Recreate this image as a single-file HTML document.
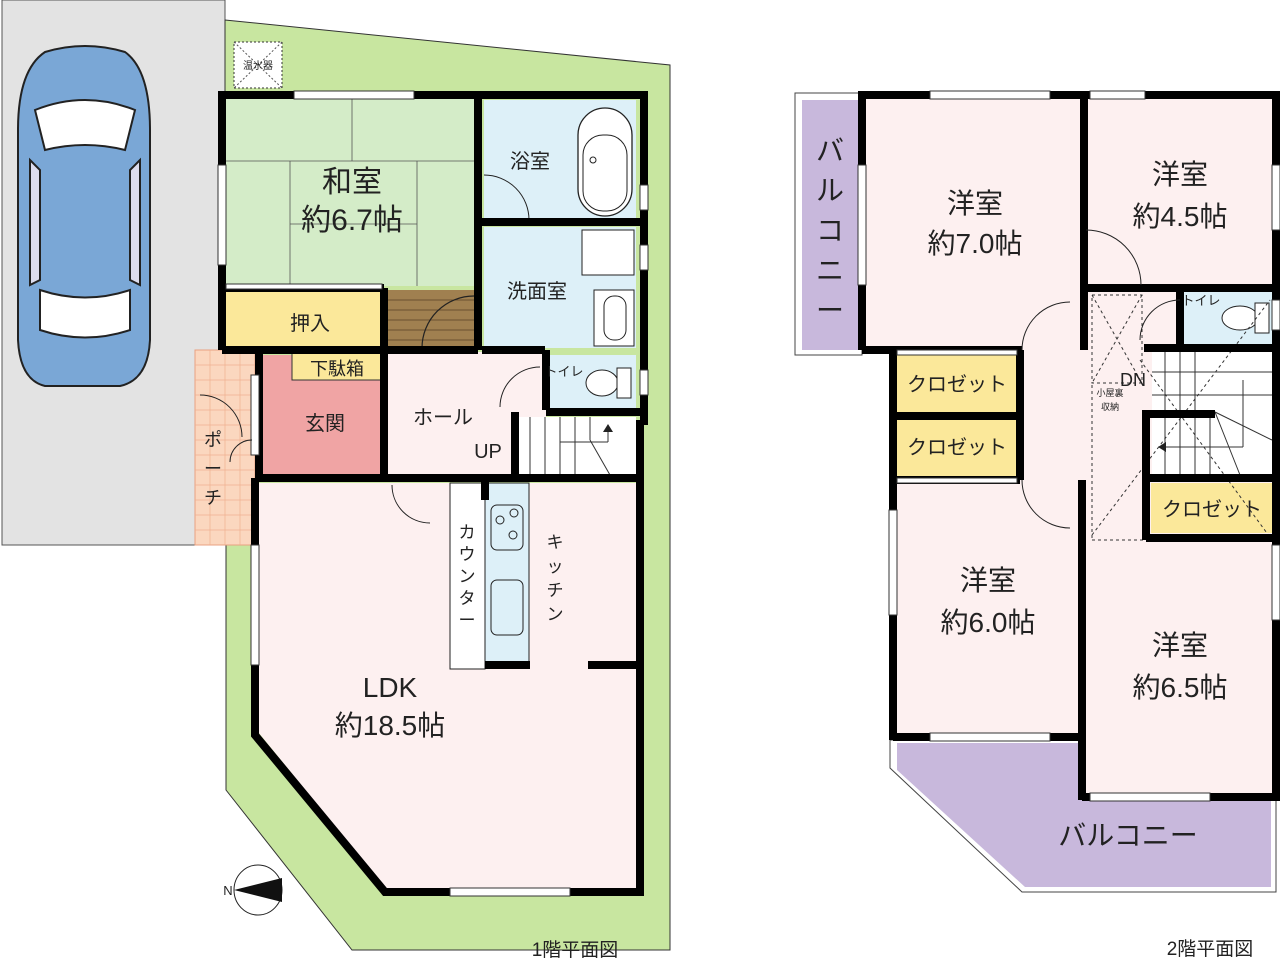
<!DOCTYPE html>
<html><head><meta charset="utf-8"><style>
html,body{margin:0;padding:0;background:#fff;}
svg{display:block;}
text{font-family:"Liberation Sans","Noto Sans CJK JP",sans-serif;fill:#222;}
</style></head><body>
<svg width="1280" height="964" viewBox="0 0 1280 964" xmlns="http://www.w3.org/2000/svg">
<!-- parking -->
<rect x="2" y="0" width="223" height="545" fill="#e3e3e3" stroke="#555" stroke-width="1"/>
<!-- green lot -->
<polygon points="225,20 670,65 670,950 352,950 226,790 226,545 255,545 255,350 225,350" fill="#c8e6a0" stroke="#333" stroke-width="1"/>
<!-- porch -->
<rect x="195" y="350" width="60" height="195" fill="#fbd7bf" stroke="#e8a080" stroke-width="1"/>
<g stroke="#f0b090" stroke-width="0.7">
<line x1="195" y1="365" x2="255" y2="365"/><line x1="195" y1="380" x2="255" y2="380"/><line x1="195" y1="395" x2="255" y2="395"/><line x1="195" y1="410" x2="255" y2="410"/><line x1="195" y1="425" x2="255" y2="425"/><line x1="195" y1="440" x2="255" y2="440"/><line x1="195" y1="455" x2="255" y2="455"/><line x1="195" y1="470" x2="255" y2="470"/><line x1="195" y1="485" x2="255" y2="485"/><line x1="195" y1="500" x2="255" y2="500"/><line x1="195" y1="515" x2="255" y2="515"/><line x1="195" y1="530" x2="255" y2="530"/>
<line x1="210" y1="350" x2="210" y2="545"/><line x1="225" y1="350" x2="225" y2="545"/><line x1="240" y1="350" x2="240" y2="545"/>
</g>
<!-- water heater -->
<rect x="234" y="42" width="48" height="46" fill="#fff" stroke="#333" stroke-dasharray="2,2"/>
<line x1="234" y1="42" x2="282" y2="88" stroke="#555" stroke-dasharray="2,2"/><line x1="282" y1="42" x2="234" y2="88" stroke="#555" stroke-dasharray="2,2"/>
<text x="258" y="69" font-size="10" text-anchor="middle">温水器</text>
<!-- car -->
<g stroke="#222" stroke-width="2">
<path d="M45,52 Q85,40 125,52 Q150,70 150,130 L150,340 Q148,380 120,386 L45,386 Q20,380 18,340 L18,130 Q18,70 45,52 Z" fill="#7aa7d6"/>
<path d="M35,110 Q85,90 135,110 L125,150 Q85,140 45,150 Z" fill="#fff"/>
<path d="M40,290 Q85,305 130,290 L130,330 Q85,345 40,330 Z" fill="#fff"/>
<path d="M30,160 L40,170 L40,280 L30,285 Z" fill="#dde"/>
<path d="M140,160 L130,170 L130,280 L140,285 Z" fill="#dde"/>
</g>
<!-- 1F rooms fills -->
<rect x="226" y="99" width="252" height="187" fill="#d4ecc8"/>
<g stroke="#555" stroke-width="0.8"><line x1="226" y1="161" x2="478" y2="161"/><line x1="352" y1="99" x2="352" y2="161"/><line x1="290" y1="161" x2="290" y2="286"/><line x1="417" y1="161" x2="417" y2="286"/><line x1="290" y1="224" x2="417" y2="224"/></g>
<rect x="226" y="290" width="156" height="58" fill="#fbe89a"/>
<rect x="388" y="290" width="90" height="58" fill="#a08050"/>
<g stroke="#6a5030" stroke-width="1"><line x1="388" y1="300" x2="478" y2="300"/><line x1="388" y1="310" x2="478" y2="310"/><line x1="388" y1="320" x2="478" y2="320"/><line x1="388" y1="330" x2="478" y2="330"/><line x1="388" y1="340" x2="478" y2="340"/></g>
<path d="M422,348 A52,52 0 0 1 474,296" fill="none" stroke="#222" stroke-width="1.2"/>
<rect x="484" y="100" width="152" height="122" fill="#ddf0f8"/>
<rect x="484" y="227" width="152" height="121" fill="#ddf0f8"/>
<rect x="578" y="108" width="54" height="108" rx="27" fill="#fff" stroke="#222" stroke-width="1.3"/>
<rect x="583" y="135" width="44" height="76" rx="20" fill="none" stroke="#222"/>
<circle cx="593" cy="160" r="3" fill="none" stroke="#222"/>
<path d="M484,175 A45,45 0 0 1 529,220" fill="none" stroke="#222"/>
<rect x="582" y="230" width="52" height="45" fill="#fff" stroke="#222"/>
<rect x="594" y="290" width="40" height="56" fill="#fff" stroke="#222"/>
<rect x="604" y="296" width="22" height="44" rx="10" fill="none" stroke="#222"/>
<rect x="262" y="355" width="120" height="120" fill="#f0a4a4"/>
<rect x="292" y="352" width="90" height="28" fill="#fbe89a" stroke="#333"/>
<rect x="386" y="352" width="160" height="124" fill="#fdf0f0"/>
<rect x="546" y="355" width="90" height="55" fill="#ddf0f8"/>
<ellipse cx="602" cy="383" rx="16" ry="13" fill="#fff" stroke="#222"/>
<rect x="617" y="368" width="14" height="30" fill="#fff" stroke="#222"/>
<path d="M500,407 A40,40 0 0 1 540,367" fill="none" stroke="#222"/>
<rect x="515" y="417" width="121" height="58" fill="#fff"/>
<g stroke="#333" stroke-width="1"><line x1="530" y1="417" x2="530" y2="475"/><line x1="545" y1="417" x2="545" y2="475"/><line x1="560" y1="417" x2="560" y2="475"/><line x1="575" y1="417" x2="575" y2="475"/><line x1="590" y1="417" x2="590" y2="440"/><line x1="590" y1="440" x2="610" y2="475"/><line x1="560" y1="442" x2="608" y2="442"/><line x1="608" y1="428" x2="608" y2="442"/></g>
<polygon points="603,432 613,432 608,424" fill="#222"/>
<!-- LDK -->
<polygon points="259,483 636,483 636,888 385,888 259,733" fill="#fdf0f0"/>
<rect x="450" y="483" width="35" height="186" fill="#fff" stroke="#222"/>
<rect x="485" y="483" width="44" height="183" fill="#ddf0f8" stroke="#222"/>
<rect x="491" y="505" width="32" height="45" rx="6" fill="none" stroke="#222"/>
<circle cx="500" cy="520" r="4" fill="none" stroke="#222"/><circle cx="514" cy="513" r="4" fill="none" stroke="#222"/><circle cx="513" cy="535" r="4" fill="none" stroke="#222"/>
<rect x="491" y="580" width="32" height="55" rx="6" fill="none" stroke="#222"/>
<path d="M392,485 A38,38 0 0 0 430,523" fill="none" stroke="#222"/>
<!-- 1F walls -->
<g fill="none" stroke="#000" stroke-width="8">
<polyline points="222,350 222,95 644,95 644,425"/>
<line x1="478" y1="99" x2="478" y2="350"/>
<line x1="222" y1="350" x2="478" y2="350"/>
<line x1="222" y1="288" x2="384" y2="288"/>
<line x1="384" y1="288" x2="384" y2="350"/>
<line x1="482" y1="350" x2="545" y2="350"/>
<line x1="478" y1="222" x2="640" y2="222"/>
<line x1="259" y1="350" x2="259" y2="475"/>
<line x1="384" y1="350" x2="384" y2="478"/>
<line x1="255" y1="478" x2="640" y2="478"/>
<polyline points="640,420 640,892 385,892 255,735 255,478"/>
<line x1="546" y1="350" x2="546" y2="410"/>
<line x1="546" y1="412" x2="640" y2="412"/>
<line x1="515" y1="412" x2="515" y2="475"/>
<line x1="485" y1="480" x2="485" y2="500"/>
<line x1="485" y1="665" x2="530" y2="665"/>
<line x1="588" y1="665" x2="640" y2="665"/>
</g>
<!-- windows 1F -->
<g fill="#fff" stroke="#333" stroke-width="1">
<rect x="294" y="91" width="120" height="8"/><rect x="218" y="165" width="8" height="100"/>
<rect x="251" y="545" width="8" height="120"/><rect x="450" y="888" width="120" height="8"/>
<rect x="640" y="185" width="8" height="25"/><rect x="640" y="245" width="8" height="25"/><rect x="640" y="370" width="8" height="25"/>
<rect x="251" y="375" width="8" height="80"/><rect x="226" y="284" width="156" height="5"/>
</g>
<path d="M200,395 A42,42 0 0 1 242,437" fill="none" stroke="#222"/>
<path d="M230,462 A22,22 0 0 1 252,440" fill="none" stroke="#222"/>
<!-- compass -->
<ellipse cx="258" cy="890" rx="24" ry="25" fill="#fff" stroke="#222"/>
<polygon points="234,890 282,878 282,902" fill="#111"/>
<text x="228" y="895" font-size="13" text-anchor="middle">N</text>

<!-- 1F labels -->
<text x="352" y="192" font-size="30" text-anchor="middle">和室</text>
<text x="352" y="230" font-size="30" text-anchor="middle">約6.7帖</text>
<text x="310" y="330" font-size="20" text-anchor="middle">押入</text>
<text x="530" y="168" font-size="20" text-anchor="middle">浴室</text>
<text x="537" y="298" font-size="20" text-anchor="middle">洗面室</text>
<text x="337" y="375" font-size="18" text-anchor="middle">下駄箱</text>
<text x="325" y="430" font-size="20" text-anchor="middle">玄関</text>
<text x="443" y="424" font-size="20" text-anchor="middle">ホール</text>
<text x="488" y="458" font-size="20" text-anchor="middle">UP</text>
<text x="564" y="376" font-size="13" text-anchor="middle">トイレ</text>
<text x="213" y="446" font-size="18" text-anchor="middle">ポ</text>
<text x="213" y="475" font-size="18" text-anchor="middle">ー</text>
<text x="213" y="504" font-size="18" text-anchor="middle">チ</text>
<text x="467" y="538" font-size="17" text-anchor="middle">カ</text><text x="467" y="560" font-size="17" text-anchor="middle">ウ</text><text x="467" y="582" font-size="17" text-anchor="middle">ン</text><text x="467" y="604" font-size="17" text-anchor="middle">タ</text><text x="467" y="626" font-size="17" text-anchor="middle">ー</text>
<text x="555" y="548" font-size="17" text-anchor="middle">キ</text><text x="555" y="572" font-size="17" text-anchor="middle">ッ</text><text x="555" y="596" font-size="17" text-anchor="middle">チ</text><text x="555" y="620" font-size="17" text-anchor="middle">ン</text>
<text x="390" y="697" font-size="28" text-anchor="middle">LDK</text>
<text x="390" y="735" font-size="28" text-anchor="middle">約18.5帖</text>
<text x="575" y="956" font-size="19" text-anchor="middle">1階平面図</text>

<!-- 2F -->
<rect x="795" y="93" width="67" height="262" fill="#fff" stroke="#444"/>
<rect x="802" y="100" width="56" height="250" fill="#c8b8dc"/>
<polygon points="890,740 1082,740 1082,797 1276,797 1276,892 1022,892 890,768" fill="#fff" stroke="#444"/>
<polygon points="897,743 1082,743 1082,800 1271,800 1271,887 1025,887 897,770" fill="#c8b8dc"/>
<rect x="866" y="99" width="414" height="636" fill="#fdf0f0"/>
<rect x="1086" y="540" width="190" height="255" fill="#fdf0f0"/>
<rect x="866" y="350" width="30" height="385" fill="#fff"/>
<rect x="897" y="354" width="120" height="60" fill="#fbe89a"/>
<rect x="897" y="418" width="120" height="60" fill="#fbe89a"/>
<rect x="1151" y="483" width="122" height="50" fill="#fbe89a"/>
<rect x="1183" y="292" width="92" height="52" fill="#ddf0f8"/>
<ellipse cx="1240" cy="318" rx="18" ry="12" fill="#fff" stroke="#222"/>
<rect x="1255" y="303" width="14" height="30" fill="#fff" stroke="#222"/>
<rect x="1152" y="349" width="120" height="126" fill="#fff"/>
<g stroke="#333" stroke-width="1">
<line x1="1165" y1="349" x2="1165" y2="415"/><line x1="1180" y1="349" x2="1180" y2="415"/><line x1="1195" y1="349" x2="1195" y2="415"/><line x1="1152" y1="372" x2="1272" y2="372"/><line x1="1152" y1="395" x2="1272" y2="395"/>
<line x1="1165" y1="415" x2="1165" y2="475"/><line x1="1180" y1="415" x2="1180" y2="475"/><line x1="1195" y1="415" x2="1195" y2="475"/><line x1="1210" y1="415" x2="1210" y2="475"/>
<line x1="1215" y1="412" x2="1272" y2="440"/><line x1="1215" y1="412" x2="1240" y2="475"/>
<line x1="1160" y1="447" x2="1243" y2="447"/><line x1="1243" y1="380" x2="1243" y2="447"/>
</g>
<polygon points="1158,447 1166,442 1166,452" fill="#222"/>
<g fill="none" stroke="#333" stroke-dasharray="3,3">
<rect x="1092" y="295" width="50" height="88"/>
<line x1="1092" y1="295" x2="1142" y2="383"/><line x1="1142" y1="295" x2="1092" y2="383"/>
<line x1="1092" y1="385" x2="1092" y2="540"/>
<line x1="1092" y1="535" x2="1270" y2="300"/>
<line x1="1140" y1="360" x2="1272" y2="540"/>
<line x1="1092" y1="540" x2="1272" y2="540"/>
</g>
<!-- 2F walls -->
<g fill="none" stroke="#000" stroke-width="8">
<polyline points="862,350 862,95 1280,95"/>
<line x1="1276" y1="95" x2="1276" y2="800"/>
<line x1="1084" y1="95" x2="1084" y2="350"/>
<line x1="1084" y1="288" x2="1276" y2="288"/>
<line x1="1180" y1="288" x2="1180" y2="348"/>
<line x1="1144" y1="348" x2="1276" y2="348"/>
<line x1="862" y1="350" x2="1022" y2="350"/>
<line x1="893" y1="350" x2="893" y2="740"/>
<line x1="1020" y1="350" x2="1020" y2="480"/>
<line x1="893" y1="416" x2="1020" y2="416"/>
<line x1="893" y1="480" x2="1020" y2="480"/>
<line x1="1082" y1="480" x2="1082" y2="800"/>
<line x1="893" y1="737" x2="1084" y2="737"/>
<line x1="1082" y1="797" x2="1280" y2="797"/>
<polyline points="1146,540 1146,414 1215,414"/>
<line x1="1146" y1="478" x2="1276" y2="478"/>
<line x1="1146" y1="538" x2="1276" y2="538"/>
</g>
<g fill="#fff" stroke="#333" stroke-width="1">
<rect x="930" y="91" width="120" height="8"/><rect x="1090" y="91" width="55" height="8"/>
<rect x="858" y="165" width="8" height="120"/><rect x="1272" y="165" width="8" height="65"/><rect x="1272" y="300" width="8" height="30"/>
<rect x="889" y="510" width="8" height="105"/><rect x="930" y="733" width="120" height="8"/><rect x="1090" y="793" width="120" height="8"/>
<rect x="1272" y="545" width="8" height="75"/>
<rect x="897" y="350" width="120" height="5"/><rect x="897" y="478" width="120" height="5"/>
</g>
<path d="M1022,350 A48,48 0 0 1 1070,302" fill="none" stroke="#222"/>
<path d="M1022,480 A48,48 0 0 0 1070,528" fill="none" stroke="#222"/>
<path d="M1086,230 A55,55 0 0 1 1141,285" fill="none" stroke="#222"/>
<path d="M1140,340 A40,40 0 0 1 1180,300" fill="none" stroke="#222"/>
<!-- 2F labels -->
<text x="975" y="213" font-size="28" text-anchor="middle">洋室</text>
<text x="975" y="253" font-size="28" text-anchor="middle">約7.0帖</text>
<text x="1180" y="184" font-size="28" text-anchor="middle">洋室</text>
<text x="1180" y="226" font-size="28" text-anchor="middle">約4.5帖</text>
<text x="988" y="590" font-size="28" text-anchor="middle">洋室</text>
<text x="988" y="632" font-size="28" text-anchor="middle">約6.0帖</text>
<text x="1180" y="655" font-size="28" text-anchor="middle">洋室</text>
<text x="1180" y="697" font-size="28" text-anchor="middle">約6.5帖</text>
<text x="1128" y="845" font-size="28" text-anchor="middle">バルコニー</text>
<g font-size="28"><text x="830" y="160" text-anchor="middle">バ</text><text x="830" y="200" text-anchor="middle">ル</text><text x="830" y="240" text-anchor="middle">コ</text><text x="830" y="280" text-anchor="middle">ニ</text><text x="830" y="320" text-anchor="middle">ー</text></g>
<text x="957" y="391" font-size="20" text-anchor="middle">クロゼット</text>
<text x="957" y="454" font-size="20" text-anchor="middle">クロゼット</text>
<text x="1212" y="516" font-size="20" text-anchor="middle">クロゼット</text>
<text x="1201" y="305" font-size="13" text-anchor="middle">トイレ</text>
<text x="1133" y="386" font-size="18" text-anchor="middle">DN</text>
<text x="1110" y="396" font-size="9" text-anchor="middle">小屋裏</text>
<text x="1110" y="410" font-size="9" text-anchor="middle">収納</text>
<text x="1210" y="955" font-size="19" text-anchor="middle">2階平面図</text>
</svg>
</body></html>
